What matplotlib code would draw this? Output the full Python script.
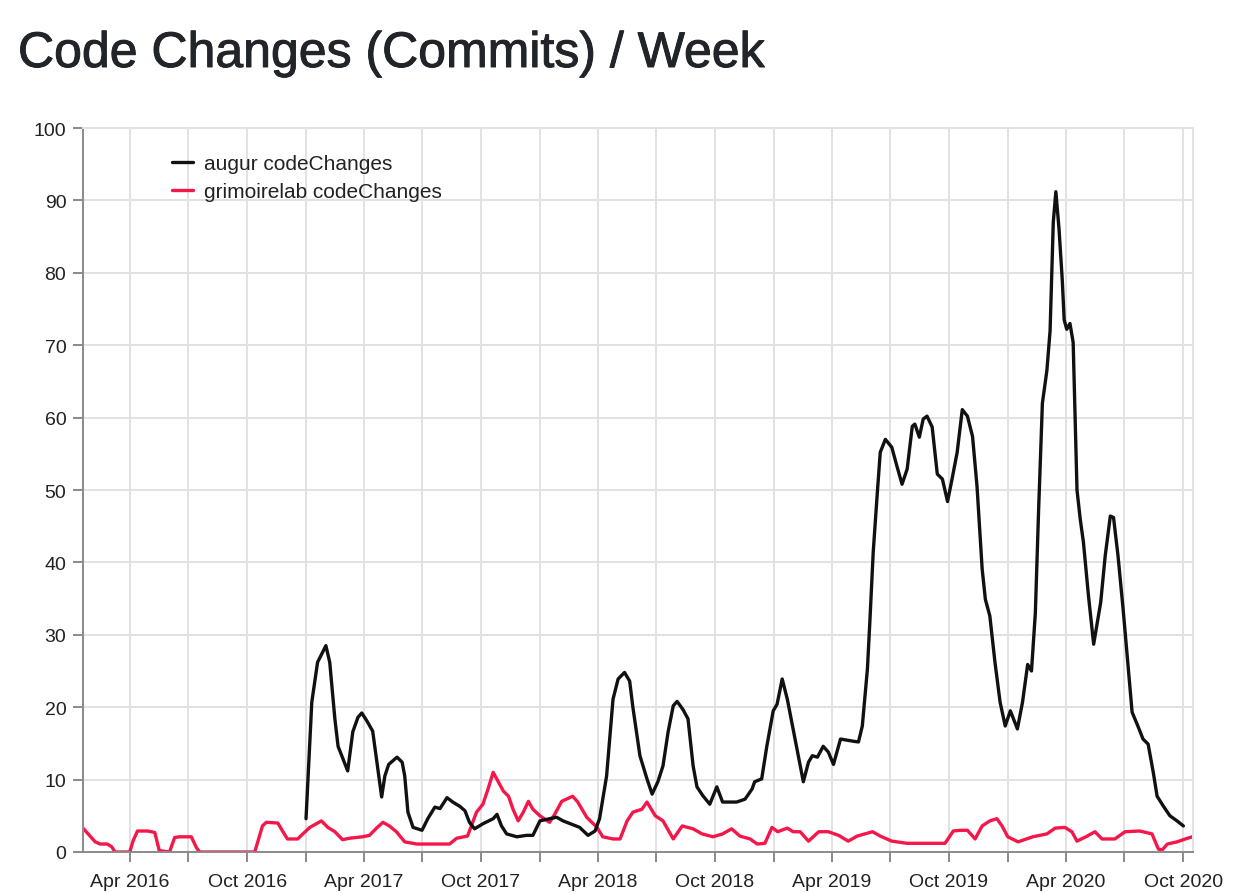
import matplotlib
matplotlib.use("Agg")
import matplotlib.pyplot as plt
import matplotlib.dates as mdates
import matplotlib.patheffects as pe
import pandas as pd

plt.rcParams['font.family'] = ['Liberation Sans', 'DejaVu Sans']

# augur codeChanges
augur_dates = [
    "2017-01-01", "2017-01-10", "2017-01-19", "2017-02-01", "2017-02-07", "2017-02-15", "2017-02-20",
    "2017-02-28", "2017-03-07", "2017-03-15", "2017-03-23", "2017-03-29", "2017-04-06", "2017-04-15",
    "2017-04-21", "2017-04-29", "2017-05-04", "2017-05-10", "2017-05-23", "2017-05-31", "2017-06-04",
    "2017-06-09", "2017-06-17", "2017-07-01", "2017-07-10", "2017-07-21", "2017-07-29", "2017-08-09",
    "2017-08-18", "2017-08-29", "2017-09-06", "2017-09-13", "2017-09-21", "2017-10-04", "2017-10-20",
    "2017-10-26", "2017-11-02", "2017-11-10", "2017-11-26", "2017-12-11", "2017-12-21", "2018-01-01",
    "2018-01-16", "2018-01-27", "2018-02-06", "2018-03-04", "2018-03-17", "2018-03-28", "2018-04-04",
    "2018-04-15", "2018-04-25", "2018-05-03", "2018-05-13", "2018-05-21", "2018-05-26", "2018-06-06",
    "2018-06-17", "2018-06-25", "2018-07-04", "2018-07-12", "2018-07-20", "2018-07-28", "2018-08-03",
    "2018-08-12", "2018-08-20", "2018-08-28", "2018-09-03", "2018-09-12", "2018-09-23", "2018-10-04",
    "2018-10-13", "2018-10-24", "2018-11-04", "2018-11-17", "2018-11-28", "2018-12-02", "2018-12-13",
    "2018-12-21", "2018-12-31", "2019-01-06", "2019-01-14", "2019-01-22", "2019-01-31", "2019-02-08",
    "2019-02-16", "2019-02-24", "2019-03-02", "2019-03-10", "2019-03-19", "2019-03-27", "2019-04-04",
    "2019-04-15", "2019-05-05", "2019-05-13", "2019-05-19", "2019-05-27", "2019-05-31", "2019-06-05",
    "2019-06-11", "2019-06-16", "2019-06-24", "2019-07-04", "2019-07-12", "2019-07-20", "2019-07-28",
    "2019-08-05", "2019-08-09", "2019-08-16", "2019-08-22", "2019-08-28", "2019-09-05", "2019-09-13",
    "2019-09-21", "2019-09-29", "2019-10-06", "2019-10-14", "2019-10-22", "2019-10-30", "2019-11-07",
    "2019-11-14", "2019-11-22", "2019-11-27", "2019-12-04", "2019-12-12", "2019-12-20", "2019-12-28",
    "2020-01-05", "2020-01-16", "2020-01-24", "2020-02-01", "2020-02-07", "2020-02-13", "2020-02-18",
    "2020-02-24", "2020-03-02", "2020-03-07", "2020-03-12", "2020-03-16", "2020-03-21", "2020-03-26",
    "2020-03-29", "2020-04-02", "2020-04-07", "2020-04-12", "2020-04-18", "2020-04-23", "2020-04-28",
    "2020-05-06", "2020-05-14", "2020-05-25", "2020-06-01", "2020-06-09", "2020-06-14", "2020-06-21",
    "2020-06-29", "2020-07-07", "2020-07-13", "2020-07-22", "2020-07-30", "2020-08-07", "2020-08-15",
    "2020-08-21", "2020-08-31", "2020-09-10", "2020-09-21", "2020-10-01",
]
augur_values = [
    4.6, 20.7, 26.2, 28.5, 26.2, 18.4, 14.6,
    12.8, 11.2, 16.6, 18.6, 19.2, 18.1, 16.7,
    12.8, 7.6, 10.5, 12.1, 13.1, 12.4, 10.5,
    5.5, 3.4, 3.0, 4.6, 6.2, 6.0, 7.5,
    6.9, 6.3, 5.7, 4.1, 3.2, 3.9, 4.6,
    5.2, 3.6, 2.5, 2.1, 2.3, 2.3, 4.3,
    4.6, 4.8, 4.3, 3.4, 2.3, 2.9, 4.6,
    10.5, 21.1, 23.9, 24.8, 23.6, 20.0, 13.3,
    10.1, 8.0, 9.7, 11.9, 16.6, 20.2, 20.8,
    19.7, 18.4, 11.9, 9.0, 7.8, 6.6, 9.0,
    6.9, 6.9, 6.9, 7.3, 8.7, 9.7, 10.1,
    14.6, 19.5, 20.4, 23.9, 21.1, 17.0, 13.3,
    9.7, 12.4, 13.3, 13.1, 14.6, 13.8, 12.1,
    15.6, 15.3, 15.2, 17.4, 25.3, 32.2, 41.4,
    49.1, 55.2, 57.0, 55.9, 53.3, 50.8, 52.9,
    58.8, 59.1, 57.3, 59.8, 60.2, 58.7, 52.2,
    51.5, 48.4, 51.5, 55.2, 61.1, 60.2, 57.4,
    50.5, 39.1, 34.9, 32.6, 26.2, 20.7, 17.4,
    19.5, 17.0, 20.7, 25.9, 25.0, 33.0, 47.0,
    62.0, 66.5, 72.0, 87.0, 91.2, 86.0, 79.0,
    73.5, 72.2, 73.0, 70.4, 50.0, 46.0, 42.8,
    35.3, 28.7, 34.5, 40.9, 46.4, 46.2, 40.9,
    33.5, 25.3, 19.3, 17.4, 15.6, 14.9, 11.0,
    7.7, 6.3, 5.0, 4.3, 3.6,
]

# grimoirelab codeChanges
grimoire_dates = [
    "2016-01-20", "2016-01-27", "2016-02-07", "2016-02-15", "2016-02-26", "2016-03-04", "2016-03-09",
    "2016-04-01", "2016-04-06", "2016-04-13", "2016-04-29", "2016-05-10", "2016-05-17", "2016-06-02",
    "2016-06-10", "2016-06-18", "2016-07-06", "2016-07-14", "2016-07-19", "2016-10-13", "2016-10-25",
    "2016-10-31", "2016-11-18", "2016-11-26", "2016-12-03", "2016-12-19", "2016-12-27", "2017-01-07",
    "2017-01-25", "2017-02-04", "2017-02-15", "2017-02-27", "2017-03-10", "2017-03-30", "2017-04-10",
    "2017-04-21", "2017-05-01", "2017-05-11", "2017-05-22", "2017-06-04", "2017-06-23", "2017-08-13",
    "2017-08-24", "2017-09-10", "2017-09-24", "2017-10-04", "2017-10-12", "2017-10-20", "2017-10-28",
    "2017-11-05", "2017-11-13", "2017-11-20", "2017-11-28", "2017-12-06", "2017-12-14", "2017-12-21",
    "2018-01-01", "2018-01-16", "2018-01-24", "2018-02-04", "2018-02-21", "2018-03-01", "2018-03-15",
    "2018-03-31", "2018-04-09", "2018-04-25", "2018-05-06", "2018-05-17", "2018-05-26", "2018-06-09",
    "2018-06-17", "2018-06-30", "2018-07-12", "2018-07-28", "2018-08-11", "2018-08-28", "2018-09-11",
    "2018-09-28", "2018-10-13", "2018-10-27", "2018-11-09", "2018-11-25", "2018-12-06", "2018-12-18",
    "2018-12-29", "2019-01-07", "2019-01-22", "2019-01-31", "2019-02-11", "2019-02-24", "2019-03-12",
    "2019-03-27", "2019-04-12", "2019-04-27", "2019-05-11", "2019-06-04", "2019-06-16", "2019-07-04",
    "2019-07-28", "2019-09-25", "2019-10-08", "2019-10-19", "2019-10-30", "2019-11-11", "2019-11-22",
    "2019-12-04", "2019-12-15", "2019-12-23", "2020-01-01", "2020-01-17", "2020-02-09", "2020-03-02",
    "2020-03-15", "2020-03-30", "2020-04-10", "2020-04-18", "2020-05-04", "2020-05-16", "2020-05-27",
    "2020-06-16", "2020-07-02", "2020-07-25", "2020-08-13", "2020-08-23", "2020-08-29", "2020-09-06",
    "2020-09-21", "2020-10-04", "2020-10-15",
]
grimoire_values = [
    3.2, 2.5, 1.4, 1.1, 1.1, 0.7, 0.0,
    0.0, 1.5, 2.9, 2.9, 2.7, 0.2, 0.0,
    2.0, 2.1, 2.1, 0.6, 0.0, 0.0, 3.6,
    4.1, 4.0, 2.8, 1.8, 1.8, 2.5, 3.4,
    4.3, 3.4, 2.8, 1.7, 1.9, 2.1, 2.3,
    3.3, 4.1, 3.6, 2.8, 1.4, 1.1, 1.1,
    1.9, 2.2, 5.5, 6.6, 8.7, 11.0, 9.7,
    8.4, 7.7, 5.9, 4.3, 5.5, 7.0, 5.9,
    5.0, 4.1, 5.2, 7.0, 7.7, 6.9, 4.8,
    3.4, 2.1, 1.8, 1.8, 4.3, 5.5, 5.9,
    6.9, 5.0, 4.3, 1.8, 3.6, 3.2, 2.5,
    2.1, 2.5, 3.2, 2.2, 1.8, 1.1, 1.2,
    3.4, 2.8, 3.3, 2.8, 2.8, 1.5, 2.8,
    2.8, 2.3, 1.5, 2.2, 2.8, 2.2, 1.5,
    1.2, 1.2, 2.9, 3.0, 3.0, 1.8, 3.6,
    4.3, 4.6, 3.6, 2.1, 1.4, 2.1, 2.5,
    3.3, 3.4, 2.8, 1.5, 2.2, 2.8, 1.8,
    1.8, 2.8, 2.9, 2.5, 0.4, 0.3, 1.1,
    1.4, 1.8, 2.1,
]

y_ticks = list(range(0, 101, 10))

fig = plt.figure(figsize=(12.35, 8.95), dpi=100)
ax = fig.add_axes([83 / 1235, 1 - 853 / 895, (1193 - 83) / 1235, (853 - 129) / 895])

ax.plot(pd.to_datetime(augur_dates), augur_values, color='#111111', lw=2.4,
        solid_joinstyle='round', solid_capstyle='round', label='augur codeChanges', zorder=3)
ax.plot(pd.to_datetime(grimoire_dates), grimoire_values, color='#f5174a', lw=2.4,
        solid_joinstyle='round', solid_capstyle='round', label='grimoirelab codeChanges', zorder=2)

ax.set_xlim(pd.Timestamp("2016-01-19"), pd.Timestamp("2020-10-16"))
ax.set_ylim(0, 100)
ax.set_yticks(y_ticks)

ax.xaxis.set_major_locator(mdates.MonthLocator(bymonth=[4, 10]))
ax.xaxis.set_major_formatter(mdates.DateFormatter('%b %Y'))
ax.xaxis.set_minor_locator(mdates.MonthLocator(bymonth=[1, 7]))

ax.grid(True, which='both', color='#e2e2e2', lw=1.4, zorder=0)
ax.set_axisbelow(True)

for s in ['top', 'right']:
    ax.spines[s].set_color('#e2e2e2')
    ax.spines[s].set_linewidth(1.4)
for s in ['left', 'bottom']:
    ax.spines[s].set_color('#8a8a8a')
    ax.spines[s].set_linewidth(1.4)

ax.tick_params(axis='both', which='both', length=7, width=1.4, color='#8a8a8a',
               labelsize=14, labelcolor='#222222', pad=5)
ax.tick_params(axis='x', which='major', pad=8)

leg = ax.legend(loc='upper left', bbox_to_anchor=(0.063, 0.99), frameon=False,
                fontsize=15, handlelength=1.0, handletextpad=0.55, labelspacing=0.45)
for t in leg.get_texts():
    t.set_color('#222222')

title = fig.text(18 / 1235, 1 - 68 / 895, 'Code Changes (Commits) / Week', fontsize=36,
                 color='#212529', va='baseline', ha='left')
title.set_path_effects([pe.withStroke(linewidth=0.7, foreground='#212529')])

fig.savefig('out.png', dpi=100, facecolor='white')
